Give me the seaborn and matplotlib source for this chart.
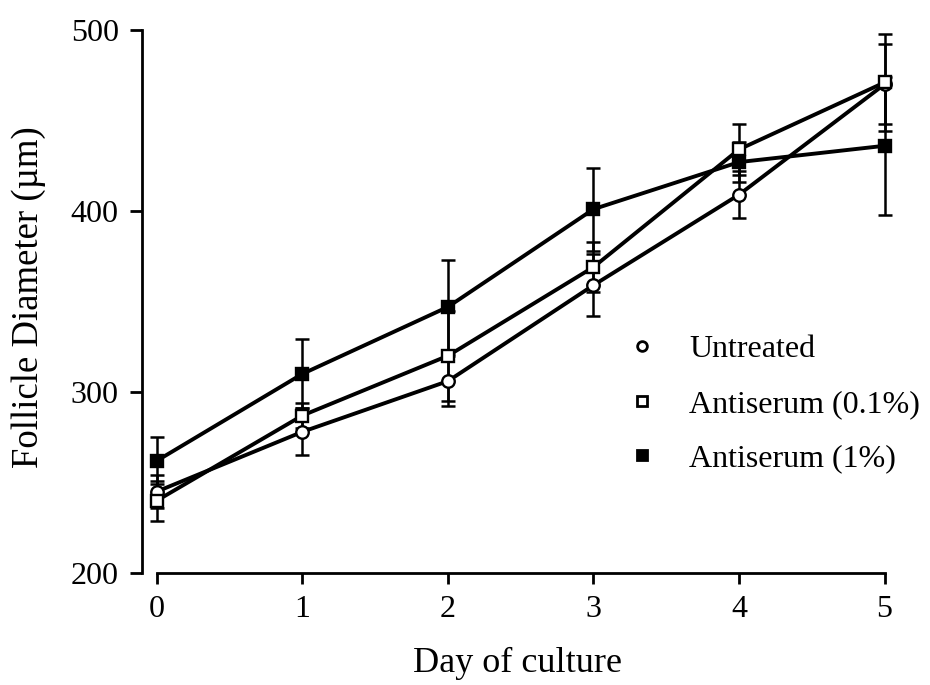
import numpy as np
import pandas as pd
import matplotlib
matplotlib.use("Agg")
import matplotlib.pyplot as plt
from matplotlib.lines import Line2D
import seaborn as sns

days = [0, 1, 2, 3, 4, 5]
untreated = [245, 278, 306, 359, 409, 470]
untreated_err = [9, 13, 14, 17, 13, 22]
anti_01 = [240, 287, 320, 369, 434, 471]
anti_01_err = [11, 7, 25, 14, 14, 27]
anti_1 = [262, 310, 347, 401, 427, 436]
anti_1_err = [13, 19, 26, 23, 11, 38]

series_names = ["Untreated", "Antiserum (0.1%)", "Antiserum (1%)"]
series_vals = [untreated, anti_01, anti_1]
series_errs = [untreated_err, anti_01_err, anti_1_err]
marker_styles = [
    dict(marker="o", markerfacecolor="white", markersize=9),
    dict(marker="s", markerfacecolor="white", markersize=9),
    dict(marker="s", markerfacecolor="black", markersize=9),
]

sns.set_style("ticks")
plt.rcParams["font.family"] = ["Liberation Serif", "DejaVu Serif"]
plt.rcParams["text.color"] = "black"
plt.rcParams["axes.labelcolor"] = "black"
plt.rcParams["xtick.color"] = "black"
plt.rcParams["ytick.color"] = "black"

fig = plt.figure(figsize=(9.3, 6.85), dpi=100)
ax = fig.add_axes([0.153, 0.1635, 0.806, 0.806])

rows = []
for name, vals in zip(series_names, series_vals):
    for d, v in zip(days, vals):
        rows.append({"day": d, "diameter": v, "group": name})
df = pd.DataFrame(rows)

for name, vals, errs, ms in zip(series_names, series_vals, series_errs, marker_styles):
    ax.errorbar(days, vals, yerr=errs, fmt="none", ecolor="black",
                elinewidth=1.8, capsize=5, capthick=1.8, zorder=2)
    sns.lineplot(data=df[df["group"] == name], x="day", y="diameter", ax=ax,
                 color="black", linewidth=2.8, markeredgecolor="black",
                 markeredgewidth=1.7, legend=False, zorder=3, **ms)

ax.set_xlim(-0.1, 5.05)
ax.set_ylim(200, 505)
ax.set_xticks(days)
ax.set_yticks([200, 300, 400, 500])
ax.spines["left"].set_bounds(200, 500)
ax.spines["bottom"].set_bounds(0, 5)
for s in ["left", "bottom"]:
    ax.spines[s].set_linewidth(2.0)
    ax.spines[s].set_color("black")
sns.despine(ax=ax)
ax.tick_params(axis="y", length=9, width=2.0, colors="black",
               labelsize=23, pad=8)
ax.tick_params(axis="x", length=8, width=2.0, colors="black",
               labelsize=23, pad=8)
ax.set_xlabel("Day of culture", fontsize=26, labelpad=16)
ax.set_ylabel("Follicle Diameter (\u00b5m)", fontsize=26.5, labelpad=18)

handles = [
    Line2D([], [], linestyle="none", marker="o", markerfacecolor="white",
           markeredgecolor="black", markeredgewidth=2, markersize=7),
    Line2D([], [], linestyle="none", marker="s", markerfacecolor="white",
           markeredgecolor="black", markeredgewidth=2, markersize=7),
    Line2D([], [], linestyle="none", marker="s", markerfacecolor="black",
           markeredgecolor="black", markeredgewidth=2, markersize=7),
]
ax.legend(handles, series_names, loc="center left",
          bbox_to_anchor=(0.607, 0.306), frameon=False, fontsize=23,
          handletextpad=0.97, labelspacing=0.78, handlelength=1.0)

fig.savefig("out.png", dpi=100)
